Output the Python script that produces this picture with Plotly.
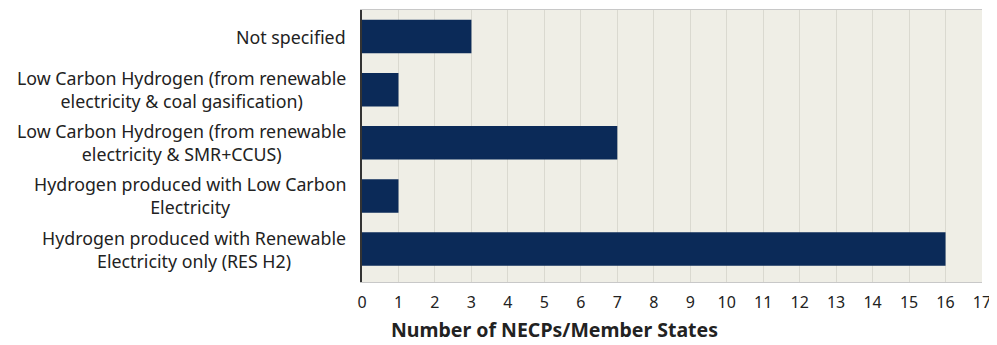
import plotly.graph_objects as go

# Data
categories = [
    "Hydrogen produced with Renewable<br>Electricity only (RES H2)",
    "Hydrogen produced with Low Carbon<br>Electricity",
    "Low Carbon Hydrogen (from renewable<br>electricity & SMR+CCUS)",
    "Low Carbon Hydrogen (from renewable<br>electricity & coal gasification)",
    "Not specified",
]
counts = [16, 1, 7, 1, 3]
x_ticks = list(range(0, 18))

FONT = "Noto Sans, Open Sans, sans-serif"

fig = go.Figure()
fig.add_trace(go.Bar(
    x=counts,
    y=categories,
    orientation="h",
    marker=dict(color="#0B2A58", line=dict(width=0)),
    width=0.63,
))

# category labels as annotations so multi-line text stays centred
for cat in categories:
    fig.add_annotation(
        x=0, y=cat, xref="paper", yref="y",
        text=cat, showarrow=False,
        xanchor="right", align="center", xshift=-14,
        font=dict(family=FONT, size=17.8, color="#222222"),
    )

# axis title (sits left of centre in the original)
fig.add_annotation(
    x=0.31, y=-0.175, xref="paper", yref="paper",
    xanchor="center", yanchor="middle",
    text="<b>Number of NECPs/Member States</b>", showarrow=False,
    font=dict(family=FONT, size=19.5, color="#222222"),
)

fig.update_layout(
    width=997, height=345,
    margin=dict(l=354, r=23, t=2, b=71),
    plot_bgcolor="#EFEEE6",
    paper_bgcolor="white",
    showlegend=False,
    xaxis=dict(
        range=[0, 17], tickvals=x_ticks, showgrid=True,
        gridcolor="#DAD9D0", gridwidth=1, zeroline=False,
        tickfont=dict(family=FONT, size=16, color="#222222"),
        ticks="", ticklabelstandoff=6, mirror=True,
        showline=True, linecolor="#C8C8C8",
    ),
    yaxis=dict(
        showticklabels=False, showgrid=False, zeroline=False,
        showline=True, linecolor="#333333", linewidth=2,
        range=[-0.62, 4.5],
    ),
)

fig.write_html("out.html")
